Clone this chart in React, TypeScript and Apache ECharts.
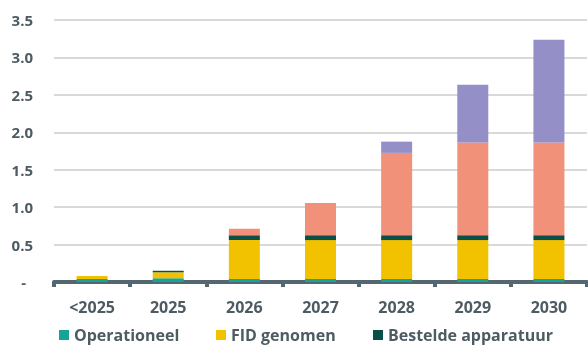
import React, { useEffect, useRef } from "react";
import * as echarts from "echarts";

const categories = ["<2025", "2025", "2026", "2027", "2028", "2029", "2030"];
const operationeel = [0.04, 0.05, 0.04, 0.04, 0.04, 0.04, 0.04];
const fidGenomen = [0.04, 0.08, 0.52, 0.52, 0.52, 0.52, 0.52];
const besteldeApparatuur = [0, 0.02, 0.065, 0.065, 0.065, 0.065, 0.065];
const gepland = [0, 0, 0.085, 0.43, 1.1, 1.24, 1.24];
const verwacht = [0, 0, 0, 0, 0.15, 0.77, 1.37];
const yTicks = [0, 0.5, 1.0, 1.5, 2.0, 2.5, 3.0, 3.5];

const textColor = "#4d5b63";
const axisColor = "#546670";
const font = "'Open Sans', 'Noto Sans', sans-serif";

const seriesDefs = [
  { name: "Operationeel", data: operationeel, color: "#17a398" },
  { name: "FID genomen", data: fidGenomen, color: "#f2c200" },
  { name: "Bestelde apparatuur", data: besteldeApparatuur, color: "#0b4f4b" },
  { name: "Gepland", data: gepland, color: "#f2917a" },
  { name: "Verwacht", data: verwacht, color: "#948fc7" },
];

const legendSpots = [
  { name: "Operationeel", left: 59 },
  { name: "FID genomen", left: 216 },
  { name: "Bestelde apparatuur", left: 373 },
];

export default function App() {
  const ref = useRef<HTMLDivElement>(null);

  useEffect(() => {
    if (!ref.current) return;
    const chart = echarts.init(ref.current, null, { renderer: "svg" });
    chart.setOption({
      animation: false,
      grid: { left: 54, right: 1, top: 20, bottom: 65, containLabel: false },
      legend: legendSpots.map((l) => ({
        data: [l.name],
        left: l.left,
        top: 327,
        icon: "rect",
        itemWidth: 10,
        itemHeight: 10,
        itemGap: 0,
        padding: 0,
        selectedMode: false,
        textStyle: {
          color: textColor,
          fontSize: 16,
          fontWeight: "bold",
          fontFamily: font,
          lineHeight: 16,
        },
      })),
      xAxis: {
        type: "category",
        data: categories,
        axisLine: { lineStyle: { color: axisColor, width: 4 } },
        axisTick: {
          show: true,
          length: 5,
          lineStyle: { color: axisColor, width: 4 },
        },
        axisLabel: {
          color: textColor,
          fontSize: 16,
          fontWeight: "bold",
          fontFamily: font,
          margin: 17,
        },
      },
      yAxis: {
        type: "value",
        min: yTicks[0],
        max: yTicks[yTicks.length - 1],
        interval: 0.5,
        axisLine: { show: false },
        axisTick: { show: false },
        splitLine: { lineStyle: { color: "#d9d9d9", width: 2 } },
        axisLabel: {
          margin: 21,
          color: textColor,
          fontSize: 15,
          fontWeight: "bold",
          fontFamily: font,
          formatter: (v: number) => (v === 0 ? "{z|-}" : v.toFixed(1)),
          rich: {
            z: {
              color: textColor,
              fontSize: 15,
              fontWeight: "bold",
              fontFamily: font,
              padding: [0, 7, 0, 0],
            },
          },
        },
      },
      series: seriesDefs.map((s) => ({
        name: s.name,
        type: "bar",
        stack: "total",
        barWidth: 31,
        data: s.data,
        itemStyle: { color: s.color },
        emphasis: { disabled: true },
      })),
    });
    return () => chart.dispose();
  }, []);

  return (
    <div
      ref={ref}
      style={{ position: "fixed", left: 0, top: 0, width: 588, height: 347 }}
    />
  );
}
